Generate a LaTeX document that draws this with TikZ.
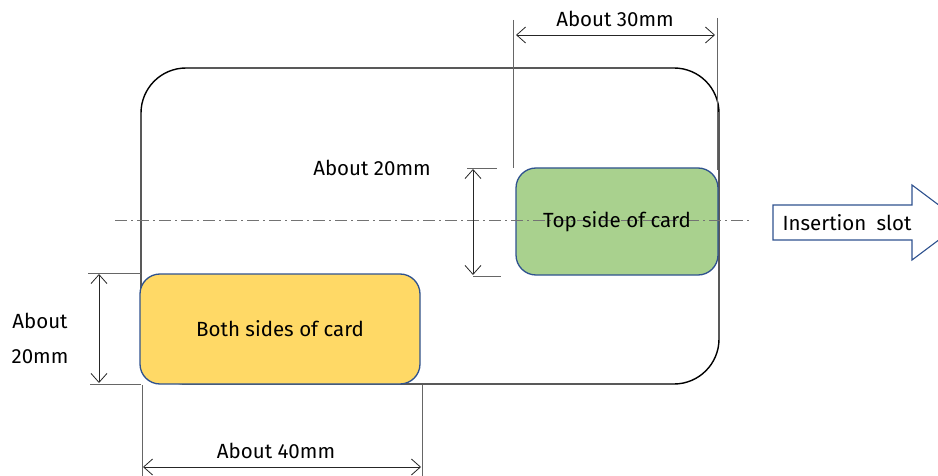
\documentclass[tikz,border=0pt]{standalone}
\usepackage{fontspec}
\setmainfont{Fira Sans}
\usetikzlibrary{arrows.meta}

\definecolor{chipgreen}{HTML}{A9D18E}
\definecolor{chipyellow}{HTML}{FFD966}
\definecolor{chipblue}{HTML}{2F528F}

\begin{document}
\begin{tikzpicture}[x=1pt,y=-1pt,font=\fontsize{20.5}{24}\selectfont]
  \tikzset{chip/.style={draw=chipblue, line width=1.3pt, rounded corners=20pt,
                        inner sep=0pt},
           ext/.style={draw=black!60, line width=0.8pt},
           dim/.style={draw=black!85, line width=0.8pt,
                       {Straight Barb[length=9pt,width=16pt]}-{Straight Barb[length=9pt,width=16pt]}}}

  \useasboundingbox (0,0) rectangle (938,476);
  \clip (0,0) rectangle (938,476);

  % card outline
  \node[draw, line width=1.4pt, rounded corners=45pt, minimum width=578pt,
        minimum height=316pt, inner sep=0pt] (card) at (430,226) {};

  % contact areas
  \node[chip, fill=chipgreen, minimum width=202pt, minimum height=107pt]
        (topside) at (617,221.5) {};
  \node[chip, fill=chipyellow, minimum width=280pt, minimum height=110pt]
        (both) at (280,329) {Both sides of card};

  % centre line
  \coordinate (cl1) at (115,220);
  \coordinate (cl2) at (750,220);
  \draw[black!55, line width=0.8pt, dash pattern=on 12pt off 4pt on 2pt off 4pt]
        (cl1) -- (cl2);
  \node (toplbl) at (topside.center) {Top side of card};

  % insertion slot
  \draw[chipblue, line width=1.1pt, fill=white, line join=miter]
        (773,205) -- (912,205) -- (912,185) -- (962,222.5) -- (912,260)
        -- (912,240) -- (773,240) -- cycle;
  \node[anchor=west] (slot) at (779,222.5) {Insertion\enspace slot};

  % about 30mm
  \coordinate (a1) at (513,20);  \coordinate (a2) at (513,168);
  \coordinate (a3) at (717,18);  \coordinate (a4) at (717,170);
  \coordinate (a5) at (516,35);  \coordinate (a6) at (715,35);
  \draw[ext] (a1) -- (a2);
  \draw[ext] (a3) -- (a4);
  \draw[dim] (a5) -- (a6);
  \node (w30) at (615,19) {About 30mm};

  % about 20mm (top side)
  \coordinate (b1) at (467,168); \coordinate (b2) at (497,168);
  \coordinate (b3) at (473,276); \coordinate (b4) at (501,276);
  \coordinate (b5) at (473,169); \coordinate (b6) at (473,275);
  \draw[ext] (b1) -- (b2);
  \draw[ext] (b3) -- (b4);
  \draw[dim] (b5) -- (b6);
  \node (h20a) at (372,168) {About 20mm};

  % about 20mm (both sides)
  \coordinate (c1) at (88,273);  \coordinate (c2) at (141,273);
  \coordinate (c3) at (90,384);  \coordinate (c4) at (141,384);
  \coordinate (c5) at (99,274);  \coordinate (c6) at (99,383);
  \draw[ext] (c1) -- (c2);
  \draw[ext] (c3) -- (c4);
  \draw[dim] (c5) -- (c6);
  \node (h20b) at (40,321) {About};
  \node (h20c) at (40,357) {20mm};

  % about 40mm
  \coordinate (d1) at (142,385); \coordinate (d2) at (142,476);
  \coordinate (d3) at (422,385); \coordinate (d4) at (422,476);
  \coordinate (d5) at (143,467); \coordinate (d6) at (421,467);
  \draw[ext] (d1) -- (d2);
  \draw[ext] (d3) -- (d4);
  \draw[dim] (d5) -- (d6);
  \node (w40) at (276,451) {About 40mm};
\end{tikzpicture}
\end{document}
